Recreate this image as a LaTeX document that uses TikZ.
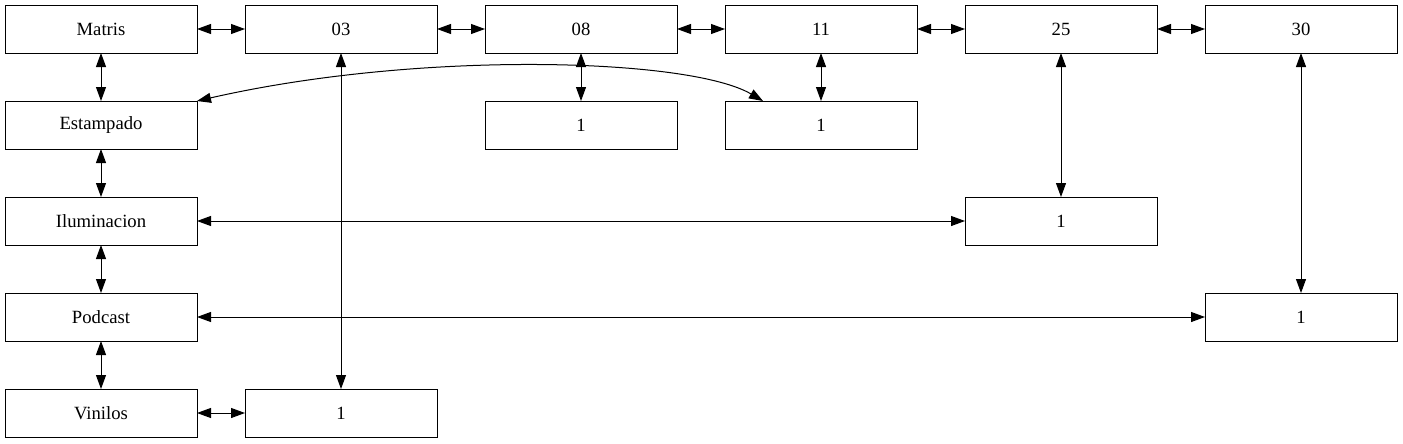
\documentclass[tikz,border=0pt]{standalone}
\usepackage{fontspec}
\setmainfont{Liberation Serif}
\usetikzlibrary{arrows.meta}
\begin{document}
\begin{tikzpicture}[x=0.75pt,y=-0.75pt,
  box/.style={draw,line width=0.75pt,rectangle,minimum width=144pt,minimum height=36pt,inner sep=0pt,outer sep=0pt,font=\fontsize{14pt}{16pt}\selectfont},
  link/.style={line width=0.75pt,{Triangle[length=10.5pt,width=7.5pt]}-{Triangle[length=10.5pt,width=7.5pt]}}]
\useasboundingbox (0,0) rectangle (1403,443);
% top row
\node[box] (matris) at (101,29) {Matris};
\node[box] (n03) at (341,29) {03};
\node[box] (n08) at (581,29) {08};
\node[box] (n11) at (821,29) {11};
\node[box] (n25) at (1061,29) {25};
\node[box] (n30) at (1301,29) {30};
% left column
\node[box] (est) at (101,125) {Estampado};
\node[box] (ilu) at (101,221) {Iluminacion};
\node[box] (pod) at (101,317) {Podcast};
\node[box] (vin) at (101,413) {Vinilos};
% leaves
\node[box] (v08) at (581,125) {1};
\node[box] (v11) at (821,125) {1};
\node[box] (v25) at (1061,221) {1};
\node[box] (v30) at (1301,317) {1};
\node[box] (v03) at (341,413) {1};
\coordinate (c11) at ([xshift=28.5pt]v11.north west);
% edges
\draw[link] (matris) -- (n03);
\draw[link] (n03) -- (n08);
\draw[link] (n08) -- (n11);
\draw[link] (n11) -- (n25);
\draw[link] (n25) -- (n30);
\draw[link] (matris) -- (est);
\draw[link] (est) -- (ilu);
\draw[link] (ilu) -- (pod);
\draw[link] (pod) -- (vin);
\draw[link] (vin) -- (v03);
\draw[link] (n03) -- (v03);
\draw[link] (n08) -- (v08);
\draw[link] (n11) -- (v11);
\draw[link] (n25) -- (v25);
\draw[link] (n30) -- (v30);
\draw[link] (ilu) -- (v25);
\draw[link] (pod) -- (v30);
\draw[link] (est.north east) .. controls (420,50) and (690,58) .. (c11);
\end{tikzpicture}
\end{document}
